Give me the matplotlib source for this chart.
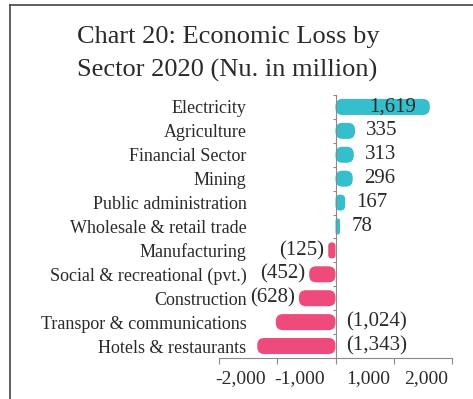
import numpy as np
import matplotlib
matplotlib.use("Agg")
import matplotlib.pyplot as plt
import matplotlib.transforms as mtransforms
from matplotlib.patches import FancyBboxPatch
from matplotlib.lines import Line2D

# Economic loss by sector, 2020 (Nu. in million); negative = loss
sectors = [
    "Electricity",
    "Agriculture",
    "Financial Sector",
    "Mining",
    "Public administration",
    "Wholesale & retail trade",
    "Manufacturing",
    "Social & recreational (pvt.)",
    "Construction",
    "Transpor & communications",
    "Hotels & restaurants",
]
values = [1619, 335, 313, 296, 167, 78, -125, -452, -628, -1024, -1343]
x_ticks = [-2000, -1000, 0, 1000, 2000]
x_tick_labels = ["-2,000", "-1,000", "", "1,000", "2,000"]

C_POS = "#35BECB"
C_NEG = "#EE4A7B"
C_TEXT = "#2a2a2a"
C_AXIS = "#8a8a8a"
FONT = "Liberation Serif"

plt.rcParams["font.family"] = FONT

W, H, DPI = 473, 399, 100
fig = plt.figure(figsize=(W / DPI, H / DPI), dpi=DPI)
fig.patch.set_facecolor("white")

# plot area in pixels: x from 219 to 452, y from 95 to 358
ax = fig.add_axes([219 / W, 1 - 358 / H, 233 / W, 263 / H])
ax.set_xlim(-2000, 2000)
ax.set_ylim(len(sectors) - 0.5, -0.5)

# px per data unit, used for rounded caps
px_x = 233 / 4000
px_y = 263 / len(sectors)
bar_h = 0.67
r_px = 7.0

bars = ax.barh(range(len(sectors)), values, height=bar_h, color="none")
for rect, v in zip(bars.patches, values):
    x0, y0 = rect.get_x(), rect.get_y()
    w, h = rect.get_width(), rect.get_height()
    if w < 0:
        x0, w = x0 + w, -w
    r = min(r_px, w * px_x / 2, h * px_y / 2)
    r_data = r / px_x
    aspect = (1 / px_y) / (1 / px_x)
    patch = FancyBboxPatch((x0, y0), w, h,
                           boxstyle=f"round,pad=0,rounding_size={r_data}",
                           mutation_aspect=aspect,
                           fc=C_POS if v >= 0 else C_NEG, ec="none", zorder=2)
    ax.add_patch(patch)
    rect.set_visible(False)

# value labels
for i, v in enumerate(values):
    txt = f"{v:,}" if v >= 0 else f"({-v:,})"
    if v > 1000:
        xy, off, ha = (v, i), (-10, 0), "right"
    elif v >= 0:
        xy, off, ha = (v, i), (8, 0), "left"
    elif v > -1000:
        xy, off, ha = (v, i), (-3, 0), "right"
    else:
        xy, off, ha = (0, i), (8, 0), "left"
    ax.annotate(txt, xy=xy, xytext=off, textcoords="offset points",
                ha=ha, va="center", fontsize=15, color=C_TEXT, zorder=3)

# axes styling
for s in ("top", "right"):
    ax.spines[s].set_visible(False)
ax.spines["left"].set_position(("data", 0))
for s in ("left", "bottom"):
    ax.spines[s].set_color(C_AXIS)
    ax.spines[s].set_linewidth(0.8)

ax.set_yticks(range(len(sectors)))
ax.set_yticklabels(sectors, fontsize=13, color=C_TEXT)
ax.set_yticks(np.arange(-0.5, len(sectors), 1.0), minor=True)
ax.tick_params(axis="y", which="major", length=0, pad=64)
ax.tick_params(axis="y", which="minor", length=2.5, width=0.8, color=C_AXIS)

ax.set_xticks(x_ticks)
ax.set_xticklabels(x_tick_labels, fontsize=14, color=C_TEXT)
ax.tick_params(axis="x", length=4, width=0.8, color=C_AXIS, pad=5)
# tick labels sit inward of their ticks
for lab, t in zip(ax.get_xticklabels(), x_ticks):
    dx = 22 if t < 0 else -26
    lab.set_transform(lab.get_transform() +
                      mtransforms.ScaledTranslation(dx / DPI, 0, fig.dpi_scale_trans))

# title
title_lines = ["Chart 20: Economic Loss by", "Sector 2020 (Nu. in million)"]
for line, yb in zip(title_lines, (43, 77)):
    fig.text(77 / W, 1 - yb / H, line, fontsize=19, color=C_TEXT,
             ha="left", va="baseline")

# outer frame (top and left edges)
fig.add_artist(Line2D([10 / W, 10 / W], [0, 1 - 5 / H], transform=fig.transFigure,
                      color="#444444", lw=1.2))
fig.add_artist(Line2D([10 / W, 1], [1 - 5 / H, 1 - 5 / H], transform=fig.transFigure,
                      color="#444444", lw=1.2))

fig.savefig("out.png", dpi=DPI, facecolor="white")
